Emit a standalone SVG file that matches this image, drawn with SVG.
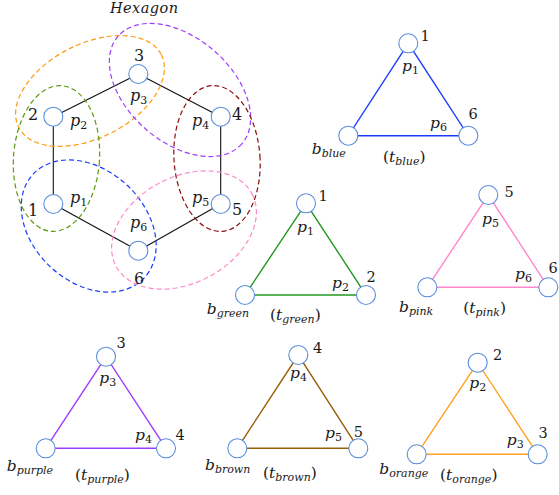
<svg xmlns="http://www.w3.org/2000/svg" width="559" height="495" viewBox="0 0 559 495">
<style>
.nd{fill:#fff;stroke:#5b8fdc;stroke-width:1.1}
.e{stroke:#111;stroke-width:1.1;fill:none}
.dash{fill:none;stroke-width:1.2;stroke-dasharray:5 3}
text{font-family:"DejaVu Serif","Liberation Serif",serif;fill:#1a1a1a}
.dg{font-size:16px;text-anchor:middle}
.dt{font-size:14.5px;text-anchor:middle}
.m{font-style:italic;font-size:16px}
.mt{font-style:italic;font-size:15.5px}
.sd{font-style:normal;font-size:11px}
.sl{font-style:italic;font-size:11px}
.up{font-style:normal}
</style>
<rect width="559" height="495" fill="#fff"/>
<text x="144" y="12.5" font-style="italic" font-size="14.5" text-anchor="middle" textLength="68" lengthAdjust="spacing">Hexagon</text>

<g id="connectors">
  <line class="e" x1="53.3" y1="204" x2="53.3" y2="116.7"/>
  <line class="e" x1="53.3" y1="116.7" x2="138.3" y2="74"/>
  <line class="e" x1="138.3" y1="74" x2="220.7" y2="116.7"/>
  <line class="e" x1="220.7" y1="116.7" x2="220.7" y2="204"/>
  <line class="e" x1="220.7" y1="204" x2="138.3" y2="250.7"/>
  <line class="e" x1="138.3" y1="250.7" x2="53.3" y2="204"/>
  <polygon points="408.3,43.3 348.3,135.7 468.3,135.7" fill="none" stroke="#1a3cff" stroke-width="1.4"/>
  <polygon points="306,203.3 245,295 366,295" fill="none" stroke="#229922" stroke-width="1.4"/>
  <polygon points="488.3,195 427.3,287.3 548.3,287.3" fill="none" stroke="#ff88cc" stroke-width="1.4"/>
  <polygon points="106,356.7 45.7,448.3 166,448.3" fill="none" stroke="#9d3dff" stroke-width="1.4"/>
  <polygon points="298.3,355 237.3,448.3 358.3,448.3" fill="none" stroke="#99600a" stroke-width="1.4"/>
  <polygon points="477.7,362.7 416.7,454.3 537.7,454.3" fill="none" stroke="#ffa21f" stroke-width="1.4"/>
</g>

<g id="hyperedges">
  <ellipse class="dash" stroke="#ff9a10" cx="90" cy="91" rx="80" ry="47" transform="rotate(-27 90 91)"/>
  <ellipse class="dash" stroke="#9d3dff" cx="180" cy="90" rx="82" ry="52" transform="rotate(41 180 90)"/>
  <ellipse class="dash" stroke="#5e9a12" cx="56.5" cy="158.5" rx="43" ry="73" transform="rotate(4 56.5 158.5)"/>
  <ellipse class="dash" stroke="#8b0e0e" cx="217" cy="158.5" rx="43" ry="73" transform="rotate(-4 217 158.5)"/>
  <ellipse class="dash" stroke="#1a3cff" cx="88.7" cy="226" rx="76" ry="56" transform="rotate(43 88.7 226)"/>
  <ellipse class="dash" stroke="#ff88cc" cx="184" cy="230" rx="77" ry="53" transform="rotate(-28 184 230)"/>
</g>

<g id="h1"><circle class="nd" cx="53.3" cy="204" r="9.5"/><text class="dg" x="33" y="215.5">1</text><text class="m" x="70" y="203">p<tspan class="sd" dy="3">1</tspan></text></g>
<g id="h2"><circle class="nd" cx="53.3" cy="116.7" r="9.5"/><text class="dg" x="33" y="119.5">2</text><text class="m" x="70" y="126">p<tspan class="sd" dy="3">2</tspan></text></g>
<g id="h3"><circle class="nd" cx="138.3" cy="74" r="9.5"/><text class="dg" x="139" y="60.5">3</text><text class="m" x="130" y="101">p<tspan class="sd" dy="3">3</tspan></text></g>
<g id="h4"><circle class="nd" cx="220.7" cy="116.7" r="9.5"/><text class="dg" x="237" y="119.5">4</text><text class="m" x="192" y="126">p<tspan class="sd" dy="3">4</tspan></text></g>
<g id="h5"><circle class="nd" cx="220.7" cy="204" r="9.5"/><text class="dg" x="237" y="214.5">5</text><text class="m" x="192" y="203">p<tspan class="sd" dy="3">5</tspan></text></g>
<g id="h6"><circle class="nd" cx="138.3" cy="250.7" r="9.5"/><text class="dg" x="139" y="283.5">6</text><text class="m" x="130" y="228">p<tspan class="sd" dy="3">6</tspan></text></g>

<g id="blue-1"><circle class="nd" cx="408.3" cy="43.3" r="9.5"/><text class="dt" x="425" y="40.7">1</text><text class="mt" x="402" y="71">p<tspan class="sd" dy="3">1</tspan></text></g>
<g id="blue-6"><circle class="nd" cx="468.3" cy="135.7" r="9.5"/><text class="dt" x="473" y="119.3">6</text><text class="mt" x="430" y="128">p<tspan class="sd" dy="3">6</tspan></text></g>
<g id="blue-b"><circle class="nd" cx="348.3" cy="135.7" r="9.5"/><text class="mt" x="311.7" y="154.3">b<tspan class="sl" dy="3">blue</tspan></text></g>
<text class="mt" x="383" y="161.7"><tspan class="up">(</tspan>t<tspan class="sl" dy="3">blue</tspan><tspan class="up" dy="-3">)</tspan></text>

<g id="green-1"><circle class="nd" cx="306" cy="203.3" r="9.5"/><text class="dt" x="323" y="200.7">1</text><text class="mt" x="297" y="232">p<tspan class="sd" dy="3">1</tspan></text></g>
<g id="green-2"><circle class="nd" cx="366" cy="295" r="9.5"/><text class="dt" x="371" y="281.7">2</text><text class="mt" x="332" y="288.3">p<tspan class="sd" dy="3">2</tspan></text></g>
<g id="green-b"><circle class="nd" cx="245" cy="295" r="9.5"/><text class="mt" x="206.7" y="314">b<tspan class="sl" dy="3">green</tspan></text></g>
<text class="mt" x="270" y="320"><tspan class="up">(</tspan>t<tspan class="sl" dy="3">green</tspan><tspan class="up" dy="-3">)</tspan></text>

<g id="pink-5"><circle class="nd" cx="488.3" cy="195" r="9.5"/><text class="dt" x="509" y="196.7">5</text><text class="mt" x="482" y="224">p<tspan class="sd" dy="3">5</tspan></text></g>
<g id="pink-6"><circle class="nd" cx="548.3" cy="287.3" r="9.5"/><text class="dt" x="553" y="273">6</text><text class="mt" x="515" y="279">p<tspan class="sd" dy="3">6</tspan></text></g>
<g id="pink-b"><circle class="nd" cx="427.3" cy="287.3" r="9.5"/><text class="mt" x="399" y="311.7">b<tspan class="sl" dy="3">pink</tspan></text></g>
<text class="mt" x="463.3" y="313"><tspan class="up">(</tspan>t<tspan class="sl" dy="3">pink</tspan><tspan class="up" dy="-3">)</tspan></text>

<g id="purple-3"><circle class="nd" cx="106" cy="356.7" r="9.5"/><text class="dt" x="121" y="348">3</text><text class="mt" x="99.3" y="383">p<tspan class="sd" dy="3">3</tspan></text></g>
<g id="purple-4"><circle class="nd" cx="166" cy="448.3" r="9.5"/><text class="dt" x="180" y="440">4</text><text class="mt" x="135" y="440">p<tspan class="sd" dy="3">4</tspan></text></g>
<g id="purple-b"><circle class="nd" cx="45.7" cy="448.3" r="9.5"/><text class="mt" x="6.7" y="471">b<tspan class="sl" dy="3">purple</tspan></text></g>
<text class="mt" x="75" y="480"><tspan class="up">(</tspan>t<tspan class="sl" dy="3">purple</tspan><tspan class="up" dy="-3">)</tspan></text>

<g id="brown-4"><circle class="nd" cx="298.3" cy="355" r="9.5"/><text class="dt" x="317.5" y="353">4</text><text class="mt" x="290" y="378">p<tspan class="sd" dy="3">4</tspan></text></g>
<g id="brown-5"><circle class="nd" cx="358.3" cy="448.3" r="9.5"/><text class="dt" x="358.3" y="436.7">5</text><text class="mt" x="325" y="438">p<tspan class="sd" dy="3">5</tspan></text></g>
<g id="brown-b"><circle class="nd" cx="237.3" cy="448.3" r="9.5"/><text class="mt" x="205" y="470">b<tspan class="sl" dy="3">brown</tspan></text></g>
<text class="mt" x="263" y="478"><tspan class="up">(</tspan>t<tspan class="sl" dy="3">brown</tspan><tspan class="up" dy="-3">)</tspan></text>

<g id="orange-2"><circle class="nd" cx="477.7" cy="362.7" r="9.5"/><text class="dt" x="497.5" y="360">2</text><text class="mt" x="469.3" y="388">p<tspan class="sd" dy="3">2</tspan></text></g>
<g id="orange-3"><circle class="nd" cx="537.7" cy="454.3" r="9.5"/><text class="dt" x="543" y="438">3</text><text class="mt" x="506.7" y="445">p<tspan class="sd" dy="3">3</tspan></text></g>
<g id="orange-b"><circle class="nd" cx="416.7" cy="454.3" r="9.5"/><text class="mt" x="379.3" y="474">b<tspan class="sl" dy="3">orange</tspan></text></g>
<text class="mt" x="440" y="480"><tspan class="up">(</tspan>t<tspan class="sl" dy="3">orange</tspan><tspan class="up" dy="-3">)</tspan></text>
</svg>
